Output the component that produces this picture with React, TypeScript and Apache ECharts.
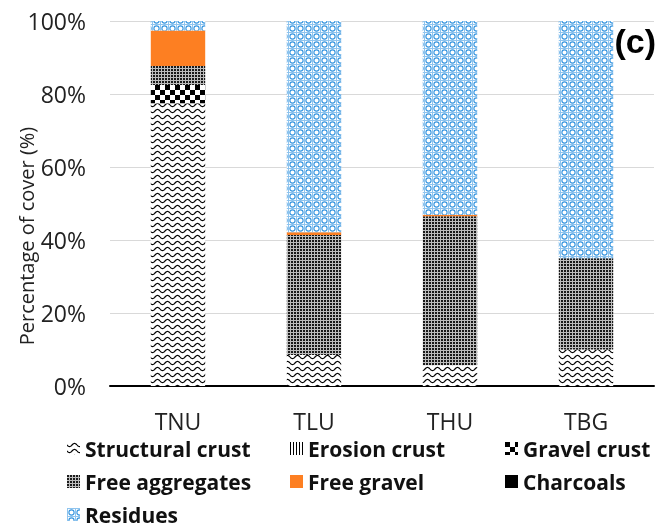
import React, { useEffect, useRef } from 'react';
import * as echarts from 'echarts';

const categories = ['TNU', 'TLU', 'THU', 'TBG'];
const structuralCrust = [77.5, 8.5, 5.7, 10.0];
const erosionCrust = [0, 0, 0, 0];
const gravelCrust = [5.0, 0, 0, 0];
const freeAggregates = [5.2, 32.9, 40.8, 25.0];
const freeGravel = [9.7, 0.7, 0.4, 0];
const charcoals = [0, 0, 0, 0];
const residues = [2.6, 57.9, 53.1, 65.0];
const seriesNames = ['Structural crust', 'Erosion crust', 'Gravel crust', 'Free aggregates', 'Free gravel', 'Charcoals', 'Residues'];

function tile(w: number, h: number, draw: (ctx: CanvasRenderingContext2D) => void) {
  const c = document.createElement('canvas');
  c.width = w;
  c.height = h;
  const ctx = c.getContext('2d') as CanvasRenderingContext2D;
  ctx.fillStyle = '#ffffff';
  ctx.fillRect(0, 0, w, h);
  draw(ctx);
  return { image: c.toDataURL(), repeat: 'repeat', imageWidth: w, imageHeight: h } as any;
}

function makePatterns() {
  const wavy = tile(10, 6, (ctx) => {
    ctx.strokeStyle = '#000';
    ctx.lineWidth = 1.15;
    ctx.beginPath();
    for (let i = 0; i <= 20; i++) {
      const x = i * 0.5;
      const y = 3 + 1.6 * Math.sin((2 * Math.PI * x) / 10);
      if (i === 0) ctx.moveTo(x, y); else ctx.lineTo(x, y);
    }
    ctx.stroke();
  });
  const vertical = tile(3, 3, (ctx) => {
    ctx.fillStyle = '#000';
    ctx.fillRect(0, 0, 1, 3);
  });
  const checker = tile(10, 10, (ctx) => {
    ctx.fillStyle = '#000';
    ctx.fillRect(0, 0, 5, 5);
    ctx.fillRect(5, 5, 5, 5);
  });
  const aggregates = tile(3, 3, (ctx) => {
    ctx.fillStyle = '#bdbdbd';
    ctx.fillRect(0, 0, 3, 3);
    ctx.fillStyle = '#1a1a1a';
    ctx.fillRect(0, 0, 2, 2);
  });
  const residue = tile(8, 8, (ctx) => {
    ctx.strokeStyle = '#8fc4ee';
    ctx.lineWidth = 1;
    ctx.beginPath();
    ctx.moveTo(0, 0.5);
    ctx.lineTo(8, 0.5);
    ctx.moveTo(0.5, 0);
    ctx.lineTo(0.5, 8);
    ctx.stroke();
    ctx.strokeStyle = '#3494df';
    ctx.lineWidth = 1.1;
    ctx.beginPath();
    ctx.arc(4.5, 4.5, 2.6, 0, Math.PI * 2);
    ctx.stroke();
  });
  return { wavy, vertical, checker, aggregates, residue };
}

export default function App() {
  const ref = useRef<HTMLDivElement>(null);
  useEffect(() => {
    if (!ref.current) return;
    const chart = echarts.init(ref.current, undefined, { renderer: 'svg' });
    const p = makePatterns();
    const colors = [p.wavy, p.vertical, p.checker, p.aggregates, '#fd7f22', '#000000', p.residue];
    const dataArr = [structuralCrust, erosionCrust, gravelCrust, freeAggregates, freeGravel, charcoals, residues];
    const font = 'Open Sans';
    const legendBase = {
      orient: 'vertical',
      icon: 'rect',
      itemWidth: 13,
      itemHeight: 13,
      itemGap: 12,
      height: 100,
      selectedMode: false,
      textStyle: { fontFamily: font, fontSize: 21, fontWeight: 'bold', color: '#111' },
    };
    chart.setOption({
      animation: false,
      grid: { left: 110, right: 9, top: 21, bottom: 144, containLabel: false },
      xAxis: {
        type: 'category',
        data: categories,
        axisLine: { show: true, lineStyle: { color: '#000', width: 2 } },
        axisTick: { show: false },
        axisLabel: { fontFamily: font, fontSize: 23, color: '#222', margin: 23 },
      },
      yAxis: {
        type: 'value',
        min: 0,
        max: 100,
        interval: 20,
        axisLine: { show: false },
        axisTick: { show: false },
        axisLabel: { formatter: '{value}%', fontFamily: font, fontSize: 23, color: '#222', margin: 24 },
        splitLine: { lineStyle: { color: '#d9d9d9', width: 1 } },
      },
      legend: [
        { ...legendBase, left: 62, top: 433, data: ['Structural crust', 'Free aggregates', 'Residues'] },
        { ...legendBase, left: 285, top: 433, data: ['Erosion crust', 'Free gravel'] },
        { ...legendBase, left: 500, top: 433, data: ['Gravel crust', 'Charcoals'] },
      ],
      graphic: [
        {
          type: 'text',
          x: 26,
          y: 236,
          rotation: Math.PI / 2,
          style: {
            text: 'Percentage of cover (%)',
            fontFamily: font,
            fontSize: 20,
            fill: '#222',
            textAlign: 'center',
            textVerticalAlign: 'middle',
          },
        },
        {
          type: 'text',
          x: 656,
          y: 41,
          style: {
            text: '(c)',
            fontFamily: 'Liberation Sans',
            fontSize: 34,
            fontWeight: 'bold',
            fill: '#000',
            textAlign: 'right',
            textVerticalAlign: 'middle',
          },
        },
      ],
      series: seriesNames.map((name, i) => ({
        name,
        type: 'bar',
        stack: 'total',
        barWidth: '40%',
        data: dataArr[i],
        itemStyle: { color: colors[i] },
      })),
    });
    return () => chart.dispose();
  }, []);
  return <div ref={ref} style={{ width: 663, height: 530, position: 'fixed', left: 0, top: 0 }} />;
}
